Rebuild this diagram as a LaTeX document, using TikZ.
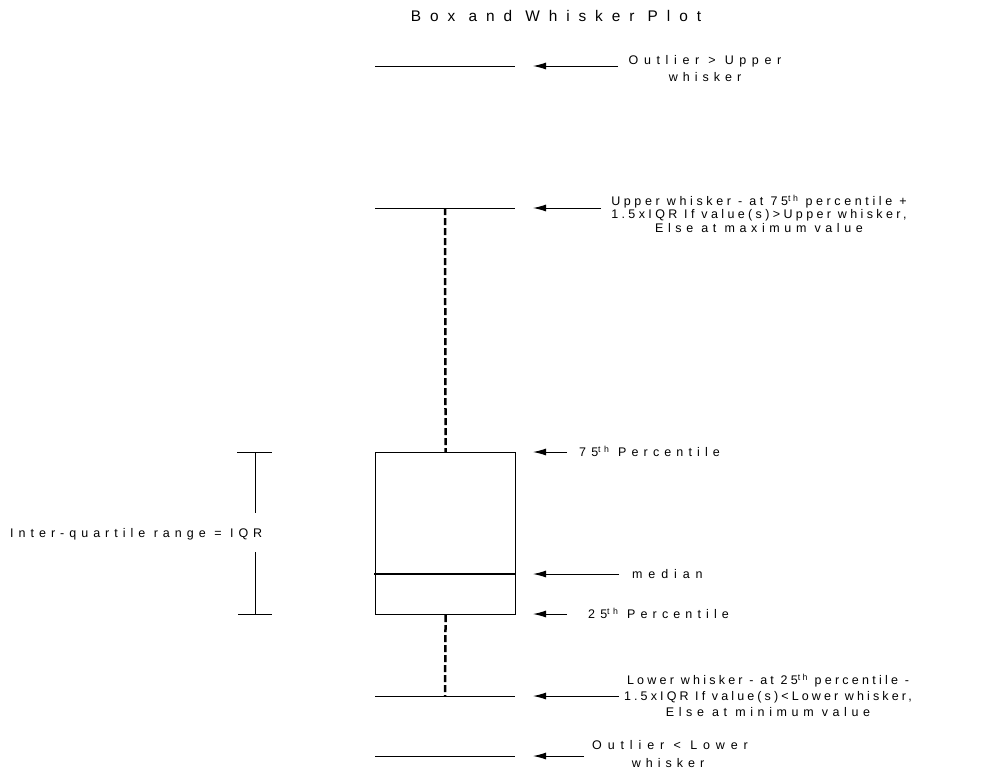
\documentclass[tikz,border=0pt]{standalone}
\usepackage{fontspec}
\setmainfont{Liberation Sans}
\newfontfamily\lblfont{Liberation Sans}
\newfontfamily\ttlfont[LetterSpace=58]{Liberation Sans}
\usetikzlibrary{arrows.meta}
\begin{document}
\begin{tikzpicture}[x=1pt,y=-1pt,
  lbl/.style={font=\lblfont\fontsize{12.5}{14}\selectfont\addfontfeatures{LetterSpace=#1},
              inner sep=0pt, anchor=base},
  lbl/.default=37,
  lblw/.style={lbl=#1, anchor=base west},
  lblw/.default=37,
  ttl/.style={font=\ttlfont\fontsize{15.4}{18}\selectfont, inner sep=0pt, anchor=base},
  thinln/.style={line width=1pt},
  ptr/.style={line width=1pt, -{Latex[length=13pt,width=7pt]}},
  dsh/.style={line width=2.5pt, dash pattern=on 7pt off 3pt},
]
\useasboundingbox (0,0) rectangle (990,769);

% title
\node[ttl] (title) at (556,21.5) {Box and Whisker Plot};

% horizontal level lines
\coordinate (ouL) at (375,66);  \coordinate (ouR) at (515,66);
\coordinate (uwL) at (375,208); \coordinate (uwR) at (515,208);
\coordinate (uwM) at (445,208);
\coordinate (lwL) at (375,696); \coordinate (lwR) at (515,696);
\coordinate (lwM) at (445,696);
\coordinate (olL) at (375,756); \coordinate (olR) at (515,756);
\coordinate (mdL) at (374,574); \coordinate (mdR) at (516,574);

\draw[thinln] (ouL) -- (ouR);
\draw[thinln] (uwL) -- (uwR);
\draw[thinln] (lwL) -- (lwR);
\draw[thinln] (olL) -- (olR);

% box
\node[draw, line width=1.2pt, minimum width=140pt, minimum height=162pt,
      inner sep=0pt, anchor=north west] (box) at (375,452) {};
\draw[line width=2.5pt] (mdL) -- (mdR);

% whiskers
\draw[dsh] (uwM) -- (box.north);
\draw[dsh] (box.south) -- (lwM);

% arrows
\coordinate (a1s) at (618,66);  \coordinate (a1e) at (533,66);
\coordinate (a2s) at (601,208); \coordinate (a2e) at (533,208);
\coordinate (a3s) at (567,452); \coordinate (a3e) at (533,452);
\coordinate (a4s) at (619,574); \coordinate (a4e) at (533,574);
\coordinate (a5s) at (567,614); \coordinate (a5e) at (533,614);
\coordinate (a6s) at (619,696); \coordinate (a6e) at (533,696);
\coordinate (a7s) at (584,756); \coordinate (a7e) at (533,756);
\foreach \i in {1,...,7} { \draw[ptr] (a\i s) -- (a\i e); }

% IQR bracket
\coordinate (bt1) at (237,452); \coordinate (bt2) at (272,452);
\coordinate (bb1) at (238,614); \coordinate (bb2) at (272,614);
\coordinate (bv1) at (255,452); \coordinate (bv2) at (255,513);
\coordinate (bv3) at (255,552); \coordinate (bv4) at (255,614);
\draw[thinln] (bt1) -- (bt2);
\draw[thinln] (bb1) -- (bb2);
\draw[thinln] (bv1) -- (bv2);
\draw[thinln] (bv3) -- (bv4);

% labels
\node[lbl=45] (ouA) at (705,64.5) {Outlier > Upper};
\node[lbl=40] (ouB) at (705,81.5) {whisker};

\node[lbl=29] (uwA) at (759,205.5) {Upper whisker - at 75\textsuperscript{th} percentile +};
\node[lbl=27] (uwB) at (759,218.5) {1.5xIQR If value(s)>Upper whisker,};
\node[lbl=37] (uwC) at (759,232.5) {Else at maximum value};

\node[lblw=41] (p75) at (579,456.5) {75\textsuperscript{th} Percentile};
\node[lblw=47] (med) at (632,578.5) {median};
\node[lblw=41] (p25) at (588,618.5) {25\textsuperscript{th} Percentile};

\node[lbl=26] (lwA) at (768,684.5) {Lower whisker - at 25\textsuperscript{th} percentile -};
\node[lbl=25] (lwB) at (768,700.5) {1.5xIQR If value(s)<Lower whisker,};
\node[lbl=37] (lwC) at (768,716.5) {Else at minimum value};

\node[lbl=47] (olA) at (670,749.5) {Outlier < Lower};
\node[lbl=40] (olB) at (668,767) {whisker};

\node[lblw=40] (iqr) at (10,537.5) {Inter-quartile range = IQR};
\end{tikzpicture}
\end{document}
